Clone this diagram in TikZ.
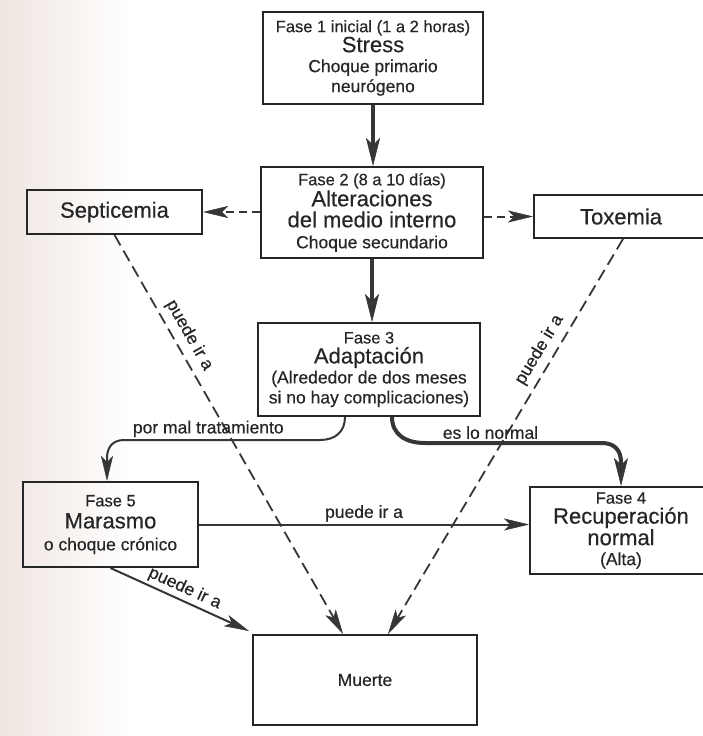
\documentclass[tikz,border=0pt]{standalone}
\usepackage{fontspec}
\setmainfont{Liberation Sans}[FakeBold=0.45]
\usetikzlibrary{arrows.meta,calc}
\definecolor{ink}{HTML}{262626}
\definecolor{arr}{HTML}{363636}
\definecolor{paper}{HTML}{EFE5E0}
\newcommand\tsm{\fontsize{16.5}{20}\selectfont}
\newcommand\tmd{\fontsize{17.5}{20}\selectfont}
\newcommand\tlg{\fontsize{22}{20}\selectfont}
\begin{document}
\begin{tikzpicture}[x=1pt,y=-1pt,
  box/.style={draw=ink, line width=2pt, inner sep=0pt, align=center, text=ink, font=\tmd},
  lbl/.style={font=\tmd, text=ink, inner sep=2pt},
  bigtip/.style={-{Stealth[length=28pt,width=14pt,inset=7pt,line width=0.5pt]}},
  tip/.style={-{Stealth[length=25pt,width=12pt,inset=6pt,line width=0.5pt]}},
  thickarr/.style={draw=arr, line width=4pt, bigtip},
  solarr/.style={draw=arr, line width=2pt, tip},
  dasharr/.style={draw=arr, line width=2pt, dash pattern=on 8pt off 5pt, tip},
  dashln/.style={draw=arr, line width=1.8pt, dash pattern=on 12pt off 6pt, tip}
]
\useasboundingbox (0,0) rectangle (702,736);
\shade[left color=paper, right color=white] (0,0) rectangle (130,736);

% boxes
\node[box, minimum width=220pt, minimum height=92pt] (f1) at (373,58)
  {{\tsm Fase 1 inicial (1 a 2 horas)}\\{\tlg Stress}\\{\tmd Choque primario}\\{\tmd neurógeno}};
\node[box, minimum width=222pt, minimum height=91pt] (f2) at (372,212.5)
  {{\tsm Fase 2 (8 a 10 días)}\\[1pt]{\tlg Alteraciones}\\[1pt]{\tlg del medio interno}\\[1pt]{\tmd Choque secundario}};
\node[box, minimum width=175pt, minimum height=44pt] (sep) at (114.5,212) {\tlg Septicemia};
\node[box, minimum width=174pt, minimum height=43pt] (tox) at (621,216.5) {\tlg Toxemia};
\node[box, minimum width=222pt, minimum height=93pt] (f3) at (369,369.5)
  {{\tsm Fase 3}\\{\tlg Adaptación}\\{\tmd (Alrededor de dos meses}\\{\tmd si no hay complicaciones)}};
\node[box, minimum width=175pt, minimum height=85pt] (mar) at (110.5,524.5)
  {{\tsm Fase 5}\\[2pt]{\tlg Marasmo}\\[2pt]{\tmd o choque crónico}};
\node[box, minimum width=182pt, minimum height=87pt] (f4) at (621,530.5)
  {{\tsm Fase 4}\\{\tlg Recuperación}\\{\tlg normal}\\{\tmd (Alta)}};
\node[box, minimum width=224pt, minimum height=90pt] (mu) at (365,680)
  {\raisebox{-6pt}{\tmd Muerte}};

% connectors
\draw[thickarr] (f1.south) -- (f1.south |- f2.north);
\draw[thickarr] (f2.south) -- (f2.south |- f3.north);
\draw[dasharr] (f2.west |- sep.east) -- (sep.east);
\draw[dasharr] (f2.east |- tox.west) -- (tox.west);
\draw[dashln] (sep.south) -- node[lbl, pos=0.27, sloped, above=4pt] {puede ir a} ([xshift=-22pt]mu.north);
\draw[dashln] ([xshift=2pt]tox.south) -- node[lbl, pos=0.3, sloped, above=4pt] {puede ir a} ([xshift=23pt]mu.north);
\draw[solarr] (mar.south) -- node[lbl, pos=0.5, sloped, above=1pt] {puede ir a} ([xshift=-3pt,yshift=3pt]mu.north west);
\draw[solarr] (mar.east) -- node[lbl, above] {puede ir a} (mar.east -| f4.west);
\draw[solarr] ([xshift=-24pt]f3.south) .. controls (345,432) and (335,440) .. (320,440)
  -- node[lbl, above, pos=0.57] {por mal tratamiento} (124,440)
  .. controls (113,440) and (107,447) .. (107,458) -- ([xshift=-3.5pt]mar.north);
\draw[thickarr] ([xshift=23pt]f3.south) .. controls (392,434) and (405,443) .. (425,443)
  -- node[lbl, above, pos=0.37] {es lo normal} (602,443)
  .. controls (614,443) and (621,450) .. (621,462) -- (f4.north);
\end{tikzpicture}
\end{document}
